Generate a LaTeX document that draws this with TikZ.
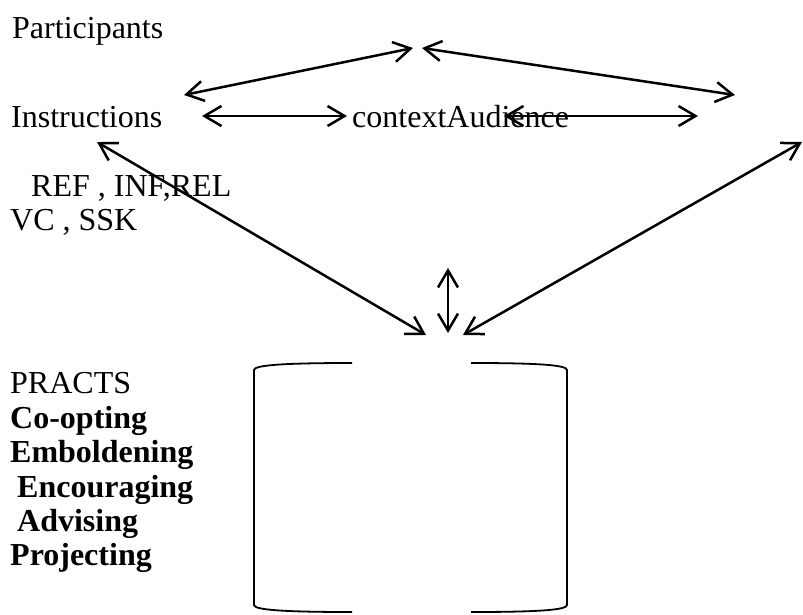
\documentclass[tikz,border=0pt]{standalone}
\usepackage{fontspec}
\setmainfont{Liberation Serif}
\usetikzlibrary{arrows.meta}
\begin{document}
\begin{tikzpicture}[x=1pt,y=-1pt,
  lbl/.style={anchor=base west,inner sep=0pt,font=\fontsize{32}{37}\selectfont},
  blbl/.style={lbl,font=\fontsize{32}{37}\selectfont\bfseries},
  link/.style={line width=2.5pt,{Straight Barb[length=17pt,width=20pt]}-{Straight Barb[length=17pt,width=20pt]}},
  bracket/.style={line width=1.8pt}]
\useasboundingbox (0,0) rectangle (803,614);
% texts
\node[lbl] (part) at (12,38) {Participants};
\node[lbl] (instr) at (11,127) {Instructions};
\node[lbl] (ctx) at (352,127) {contextAudience};
\node[lbl] (ref) at (31,196) {REF , INF,REL};
\node[lbl] (vc) at (10,230) {VC , SSK};
\node[lbl] (practs) at (10,393) {PRACTS};
\node[blbl] (coopt) at (10,428) {Co-opting};
\node[blbl] (embold) at (10,462) {Emboldening};
\node[blbl] (encour) at (17,497) {Encouraging};
\node[blbl] (advis) at (17,531) {Advising};
\node[blbl] (proj) at (10,565) {Projecting};
% arrow end points
\coordinate (a1s) at (184,95);  \coordinate (a1e) at (413,48);
\coordinate (a2s) at (422,48);  \coordinate (a2e) at (735,95);
\coordinate (a3s) at (202,116); \coordinate (a3e) at (347,116);
\coordinate (a4s) at (504,116); \coordinate (a4e) at (698,116);
\coordinate (a5s) at (97,142);  \coordinate (a5e) at (426,335);
\coordinate (a6s) at (802,142); \coordinate (a6e) at (463,335);
\coordinate (a7s) at (448,268); \coordinate (a7e) at (448,333);
\draw[link] (a1s) -- (a1e);
\draw[link] (a2s) -- (a2e);
\draw[link] (a3s) -- (a3e);
\draw[link] (a4s) -- (a4e);
\draw[link] (a5s) -- (a5e);
\draw[link] (a6s) -- (a6e);
\draw[link] (a7s) -- (a7e);
% open cylinder-like brackets
\draw[bracket] (352,363) .. controls (285,363) and (254,365) .. (254,370) -- (254,605)
  .. controls (254,610) and (285,612) .. (352,612);
\draw[bracket] (471,363) .. controls (538,363) and (567,365) .. (567,370) -- (567,605)
  .. controls (567,610) and (538,612) .. (471,612);
\end{tikzpicture}
\end{document}
